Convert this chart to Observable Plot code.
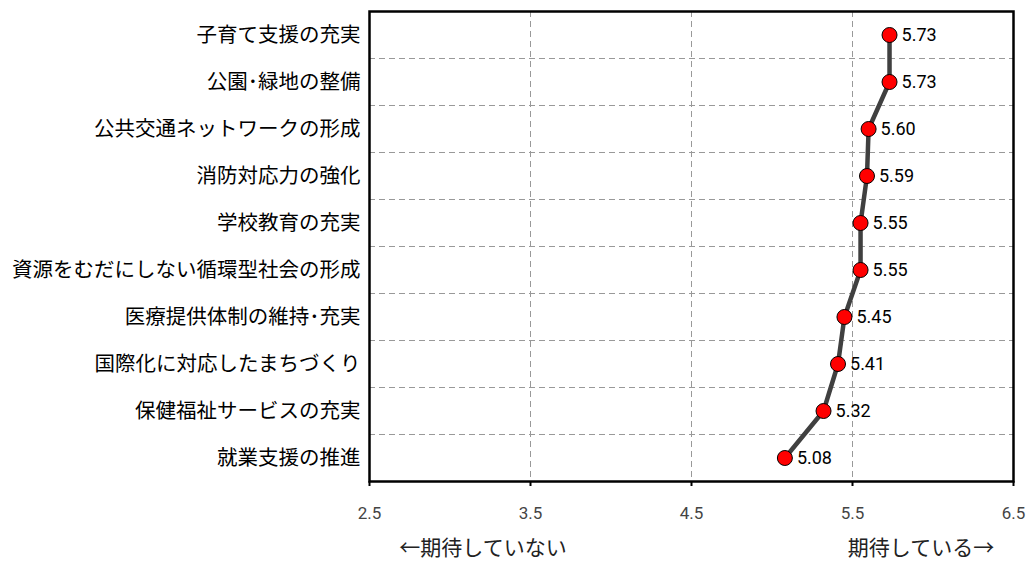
<!DOCTYPE html>
<html>
<head>
<meta charset="utf-8">
<script src="https://cdn.jsdelivr.net/npm/d3@7"></script>
<script src="https://cdn.jsdelivr.net/npm/@observablehq/plot@0.6"></script>
<style>
  html, body { margin: 0; padding: 0; background: #fff; }
  body { font-family: Roboto, "Noto Sans CJK JP", sans-serif; }
  #wrap { position: relative; width: 1032px; }
  #foot { position: relative; width: 1032px; height: 36px; font-family: "Noto Sans CJK JP", sans-serif; font-size: 21px; color: #222; }
  #foot span { position: absolute; top: 1px; white-space: nowrap; transform: translateX(-50%); }
</style>
</head>
<body>
<div id="wrap"></div>
<div id="foot"><span style="left:483px">←期待していない</span><span style="left:921px">期待している→</span></div>
<script>
const categories = [
  "子育て支援の充実",
  "公園･緑地の整備",
  "公共交通ネットワークの形成",
  "消防対応力の強化",
  "学校教育の充実",
  "資源をむだにしない循環型社会の形成",
  "医療提供体制の維持･充実",
  "国際化に対応したまちづくり",
  "保健福祉サービスの充実",
  "就業支援の推進"
];
const values = [5.73, 5.73, 5.60, 5.59, 5.55, 5.55, 5.45, 5.41, 5.32, 5.08];
const xTicks = [2.5, 3.5, 4.5, 5.5, 6.5];
const gridX = [3.5, 4.5, 5.5];

const data = categories.map((c, i) => ({cat: c, value: values[i]}));
const band = (481 - 11) / categories.length;

const chart = Plot.plot({
  width: 1032,
  height: 530,
  marginLeft: 369,
  marginRight: 19,
  marginTop: 11,
  marginBottom: 49,
  style: {fontFamily: "Roboto, 'Noto Sans CJK JP', sans-serif", background: "#fff"},
  x: {domain: [2.5, 6.5], ticks: xTicks, tickFormat: d => d.toFixed(1)},
  y: {type: "band", domain: categories, padding: 0},
  marks: [
    Plot.ruleX(gridX, {stroke: "#999", strokeWidth: 1, strokeDasharray: "6,4"}),
    Plot.ruleY(categories.slice(1), {dy: -band / 2, stroke: "#999", strokeWidth: 1, strokeDasharray: "6,4"}),
    Plot.frame({stroke: "#000", strokeWidth: 2.5}),
    Plot.axisX({ticks: xTicks, tickFormat: d => d.toFixed(1), tickSize: 5, tickPadding: 20, fontSize: 17, fill: "#444", stroke: "#000", strokeWidth: 2, label: null}),
    Plot.axisY({tickSize: 0, tickPadding: 9, fontSize: 20.5, fill: "#000", label: null, fontFamily: "'Noto Sans CJK JP', sans-serif"}),
    Plot.line(data, {x: "value", y: "cat", stroke: "#404040", strokeWidth: 4.5}),
    Plot.dot(data, {x: "value", y: "cat", r: 7.5, fill: "#ff0000", stroke: "#000", strokeWidth: 1}),
    Plot.text(data, {x: "value", y: "cat", text: d => d.value.toFixed(2), textAnchor: "start", dx: 12, fontSize: 18, fill: "#000"})
  ]
});
document.getElementById("wrap").appendChild(chart);
</script>
</body>
</html>
